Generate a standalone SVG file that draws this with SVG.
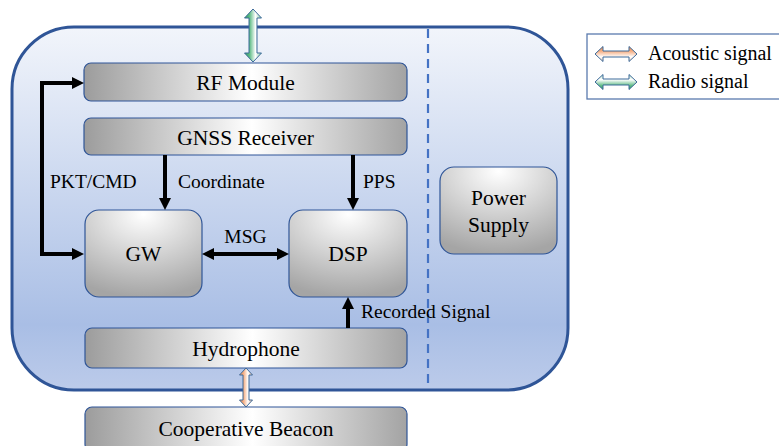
<svg xmlns="http://www.w3.org/2000/svg" width="779" height="446" viewBox="0 0 779 446">
  <defs>
    <linearGradient id="bodyFill" x1="0" y1="0" x2="0" y2="1">
      <stop offset="0" stop-color="#F2F5FB"/>
      <stop offset="0.82" stop-color="#A9BEE5"/>
      <stop offset="1" stop-color="#BCCBEA"/>
    </linearGradient>
    <linearGradient id="barFill" x1="0" y1="0" x2="1" y2="0">
      <stop offset="0" stop-color="#9C9C9C"/>
      <stop offset="0.52" stop-color="#FFFFFF"/>
      <stop offset="1" stop-color="#A3A3A3"/>
    </linearGradient>
    <radialGradient id="boxFill" cx="0.5" cy="0.05" r="0.95">
      <stop offset="0" stop-color="#FFFFFF"/>
      <stop offset="1" stop-color="#A5A5A5"/>
    </radialGradient>
    <linearGradient id="radioV" x1="0" y1="0" x2="1" y2="0">
      <stop offset="0" stop-color="#2E9A5A"/>
      <stop offset="0.3" stop-color="#5DBB84"/>
      <stop offset="0.65" stop-color="#FFFFFF"/>
      <stop offset="1" stop-color="#7FCB9C"/>
    </linearGradient>
    <linearGradient id="acousticV" x1="0" y1="0" x2="1" y2="0">
      <stop offset="0" stop-color="#EE8B4E"/>
      <stop offset="0.3" stop-color="#F5AC80"/>
      <stop offset="0.65" stop-color="#FFFFFF"/>
      <stop offset="1" stop-color="#F6B48C"/>
    </linearGradient>
    <linearGradient id="radioH" x1="0" y1="0" x2="0" y2="1">
      <stop offset="0" stop-color="#B8E4C8"/>
      <stop offset="0.35" stop-color="#FFFFFF"/>
      <stop offset="0.75" stop-color="#5DBB84"/>
      <stop offset="1" stop-color="#2E9A5A"/>
    </linearGradient>
    <linearGradient id="acousticH" x1="0" y1="0" x2="0" y2="1">
      <stop offset="0" stop-color="#EE8B4E"/>
      <stop offset="0.3" stop-color="#F5AC80"/>
      <stop offset="0.7" stop-color="#FFFFFF"/>
      <stop offset="1" stop-color="#F6C3A3"/>
    </linearGradient>
    <marker id="ah" viewBox="0 0 12 12" refX="3" refY="6" markerWidth="12" markerHeight="12" markerUnits="userSpaceOnUse" orient="auto-start-reverse">
      <path d="M0,0 L12,6 L0,12 z" fill="#000"/>
    </marker>
  </defs>
  <style>
    .node { stroke: #2F5597; stroke-width: 1.2; }
    .bar { fill: url(#barFill); }
    .box { fill: url(#boxFill); }
    .big { font-size: 21.5px; text-anchor: middle; }
    .lbl { font-size: 19.5px; }
    .wire { fill: none; stroke: #000; stroke-width: 4; marker-end: url(#ah); }
    .dbl { marker-start: url(#ah); }
    .sig { stroke: #3D6A9A; stroke-width: 1; }
  </style>

  <rect width="779" height="446" fill="#FFFFFF"/>

  <g font-family="'Liberation Serif', 'Times New Roman', Tinos, 'DejaVu Serif', serif" fill="#000">

  <!-- enclosure -->
  <g id="enclosure">
    <rect x="12" y="27" width="556" height="363" rx="62" ry="62" fill="url(#bodyFill)" stroke="#2F5597" stroke-width="3"/>
    <line x1="428" y1="29" x2="428" y2="388" stroke="#4472C4" stroke-width="2.2" stroke-dasharray="9,6"/>
  </g>

  <!-- legend -->
  <g id="legend">
    <rect x="587" y="34" width="200" height="65" fill="#FFFFFF" stroke="#5A7AAE" stroke-width="1.3"/>
    <polygon class="sig" fill="url(#acousticH)" points="595,54 603,46.5 603,51 629,51 629,46.5 637,54 629,61.5 629,57 603,57 603,61.5"/>
    <polygon class="sig" fill="url(#radioH)" points="595,82 603,74.5 603,79 629,79 629,74.5 637,82 629,89.5 629,85 603,85 603,89.5"/>
    <text x="648" y="60" font-size="20">Acoustic signal</text>
    <text x="648" y="88" font-size="20">Radio signal</text>
  </g>

  <!-- nodes -->
  <g id="rf-module">
    <rect class="node bar" x="84" y="63" width="323" height="38" rx="7"/>
    <text class="big" x="245.5" y="90">RF Module</text>
  </g>
  <g id="gnss-receiver">
    <rect class="node bar" x="84" y="118" width="323" height="37" rx="7"/>
    <text class="big" x="245.5" y="144.5">GNSS Receiver</text>
  </g>
  <g id="gw">
    <rect class="node box" x="85" y="210" width="117" height="87" rx="14"/>
    <text class="big" x="143.5" y="261">GW</text>
  </g>
  <g id="dsp">
    <rect class="node box" x="289" y="210" width="118" height="87" rx="14"/>
    <text class="big" x="348" y="261">DSP</text>
  </g>
  <g id="power-supply">
    <rect class="node box" x="440" y="167" width="117" height="87" rx="14"/>
    <text class="big" x="498.5" y="205">Power</text>
    <text class="big" x="498.5" y="232">Supply</text>
  </g>
  <g id="hydrophone">
    <rect class="node bar" x="85" y="328" width="322" height="40" rx="7"/>
    <text class="big" x="246" y="355.5">Hydrophone</text>
  </g>
  <g id="cooperative-beacon">
    <rect class="node bar" x="85" y="407" width="322" height="44" rx="7"/>
    <text class="big" x="246" y="436">Cooperative Beacon</text>
  </g>

  <!-- connectors -->
  <g id="connectors">
    <polygon class="sig" fill="url(#radioV)" points="253,9 261.5,18 257,18 257,53 261.5,53 253,62 244.5,53 249,53 249,18 244.5,18"/>
    <polygon class="sig" fill="url(#acousticV)" points="246,368 252.5,375 249,375 249,400 252.5,400 246,407 239.5,400 243,400 243,375 239.5,375"/>

    <path class="wire dbl" d="M75,83 H42 V254 H75"/>
    <path class="wire" d="M165,155 V201"/>
    <path class="wire" d="M353,155 V201"/>
    <path class="wire dbl" d="M211,254 H280"/>
    <path class="wire" d="M348,328 V306"/>

    <text class="lbl" x="50" y="188">PKT/CMD</text>
    <text class="lbl" x="178" y="188">Coordinate</text>
    <text class="lbl" x="363" y="188">PPS</text>
    <text class="lbl" x="245.5" y="243" text-anchor="middle">MSG</text>
    <text class="lbl" x="361" y="318">Recorded Signal</text>
  </g>

  </g>
</svg>
